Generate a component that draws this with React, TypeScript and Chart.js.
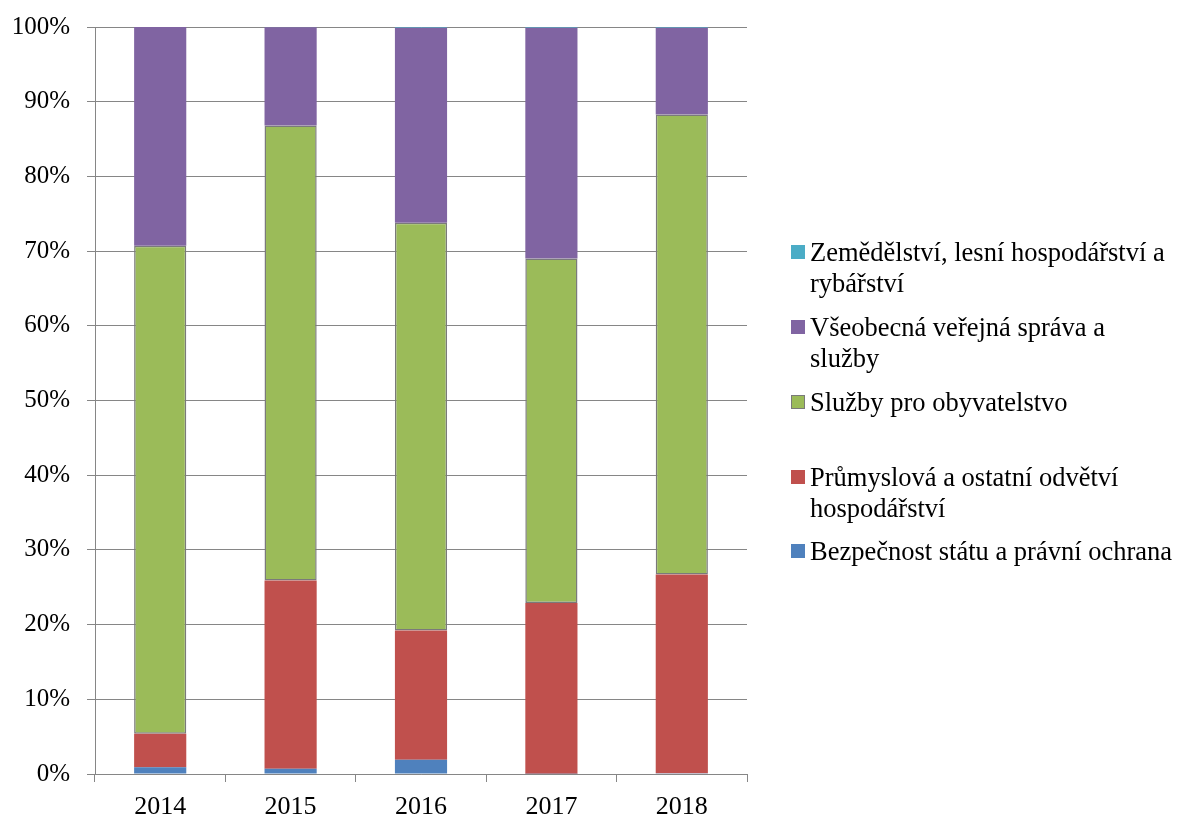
import React, { useEffect, useRef } from "react";
import { Chart, registerables } from "chart.js";

Chart.register(...registerables);

const years = ["2014", "2015", "2016", "2017", "2018"];
const bezpecnost = [0.9, 0.7, 1.9, 0.05, 0.1];
const prumyslova = [4.5, 25.2, 17.3, 22.85, 26.6];
const sluzbyObyv = [65.3, 60.9, 54.6, 46.1, 61.6];
const verejnaSprava = [29.3, 13.15, 26.1, 30.9, 11.6];
const zemedelstvi = [0, 0.05, 0.1, 0.1, 0.1];
const yTicks = [0, 10, 20, 30, 40, 50, 60, 70, 80, 90, 100];

const seriesNames = [
  "Bezpečnost státu a právní ochrana",
  "Průmyslová a ostatní odvětví\nhospodářství",
  "Služby pro obyvatelstvo",
  "Všeobecná veřejná správa a\nslužby",
  "Zemědělství, lesní hospodářství a\nrybářství",
];
const seriesColors = ["#4F81BD", "#C0504D", "#9BBB59", "#8064A2", "#4BACC6"];
const seriesData = [bezpecnost, prumyslova, sluzbyObyv, verejnaSprava, zemedelstvi];

const FONT = "'Liberation Serif', 'Times New Roman', serif";

export default function App() {
  const ref = useRef<HTMLCanvasElement | null>(null);

  useEffect(() => {
    document.body.style.margin = "0";
    const ctx = ref.current!;
    const chart = new Chart(ctx, {
      type: "bar",
      data: {
        labels: years,
        datasets: seriesData.map((d, i) => ({
          label: seriesNames[i],
          data: d,
          backgroundColor: seriesColors[i],
          borderColor: i === 2 ? "#7A7A7A" : seriesColors[i],
          borderWidth: i === 2 ? 1.5 : 0,
          borderSkipped: false,
          barPercentage: 0.4,
          categoryPercentage: 1,
        })),
      },
      options: {
        animation: false,
        responsive: false,
        maintainAspectRatio: false,
        layout: { padding: { left: 0, right: 430, top: 27, bottom: 0 } },
        plugins: {
          legend: { display: false },
          tooltip: { enabled: false },
        },
        scales: {
          x: {
            stacked: true,
            afterFit: (s: any) => {
              s.height = 43;
              s.paddingLeft = 0;
              s.paddingRight = 0;
            },
            grid: {
              display: true,
              drawOnChartArea: false,
              drawTicks: true,
              tickLength: 8,
              color: "#868686",
            },
            border: { color: "#868686", width: 1 },
            ticks: {
              color: "#000",
              padding: 10,
              font: { family: FONT, size: 26 },
            },
          },
          y: {
            stacked: true,
            min: 0,
            max: 100,
            afterFit: (s: any) => {
              s.width = 95;
              s.paddingTop = 0;
              s.paddingBottom = 0;
            },
            afterBuildTicks: (s: any) => {
              s.ticks = yTicks.map((v) => ({ value: v }));
            },
            grid: {
              color: "#868686",
              tickLength: 8,
            },
            border: { color: "#868686", width: 1 },
            ticks: {
              color: "#000",
              padding: 17,
              font: { family: FONT, size: 25 },
              callback: (v: any) => v + "%",
            },
          },
        },
      },
    });
    return () => chart.destroy();
  }, []);

  const legendOrder = [4, 3, 2, 1, 0];
  const legendTops = [237, 312, 387, 462, 536];

  return (
    <div style={{ position: "absolute", left: 0, top: 0, width: 1177, height: 817 }}>
      <canvas ref={ref} width={1177} height={817} style={{ display: "block" }} />
      {legendOrder.map((si, k) => (
        <div
          key={si}
          style={{
            position: "absolute",
            left: 791,
            top: legendTops[k],
            display: "flex",
            alignItems: "flex-start",
            fontFamily: FONT,
            fontSize: 26.5,
            lineHeight: "31px",
            color: "#000",
          }}
        >
          <span
            style={{
              display: "inline-block",
              width: 14,
              height: 14,
              marginTop: 8,
              marginRight: 5,
              background: seriesColors[si],
              boxSizing: "border-box",
              border: si === 2 ? "1.5px solid #7A7A7A" : "none",
              flex: "none",
            }}
          />
          <span style={{ whiteSpace: "pre" }}>{seriesNames[si]}</span>
        </div>
      ))}
    </div>
  );
}
